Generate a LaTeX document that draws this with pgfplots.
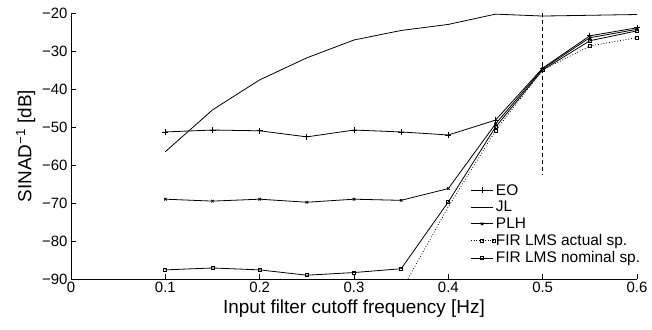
\documentclass[border=0pt]{standalone}
\usepackage{fontspec}
\setmainfont{Liberation Sans}
\usepackage{pgfplots}
\pgfplotsset{compat=1.18}
\begin{document}
\begin{tikzpicture}
\begin{axis}[
  name=ax,
  scale only axis, width=566bp, height=266bp,
  xmin=0, xmax=0.6, ymin=-90, ymax=-20,
  axis x line=bottom, axis y line=left,
  axis line style={-, line width=0.6bp},
  tick align=inside, major tick length=5bp,
  tick style={black, line width=0.6bp},
  xtick={0,0.1,0.2,0.3,0.4,0.5,0.6},
  xticklabels={0,0.1,0.2,0.3,0.4,0.5,0.6},
  ytick={-90,-80,-70,-60,-50,-40,-30,-20},
  yticklabels={−90,−80,−70,−60,−50,−40,−30,−20},
  ticklabel style={font=\fontsize{15}{15}\selectfont},
  xlabel={Input filter cutoff frequency [Hz]},
  ylabel={SINAD\textsuperscript{−1} [dB]},
  label style={font=\fontsize{19}{19}\selectfont},
  legend style={draw=none, fill=none, at={(0.70,0.372)}, anchor=north west,
    font=\fontsize{15.5}{15.5}\selectfont, row sep=0.6bp,
    nodes={inner xsep=1bp}},
  legend cell align=left,
  legend image code/.code={\draw[mark repeat=2,mark phase=2,#1] plot coordinates {(0cm,0cm) (0.4cm,0cm) (0.8cm,0cm)};},
  every axis plot/.append style={black, line width=0.8bp},
]
% EO
\addplot[mark=+, mark size=3bp] coordinates {
 (0.1,-51.3) (0.15,-50.8) (0.2,-51) (0.25,-52.6) (0.3,-50.8) (0.35,-51.3)
 (0.4,-52.1) (0.45,-48.2) (0.5,-34.5) (0.55,-26) (0.6,-23.9)};
\addlegendentry{EO}
% JL
\addplot[mark=none] coordinates {
 (0.1,-56.5) (0.15,-45.5) (0.2,-37.6) (0.25,-31.8) (0.3,-27.1) (0.35,-24.6)
 (0.4,-23) (0.45,-20.3) (0.5,-20.8) (0.55,-20.6) (0.6,-20.4)};
\addlegendentry{JL}
% PLH
\addplot[mark=x, mark size=1.8bp] coordinates {
 (0.1,-69) (0.15,-69.5) (0.2,-69) (0.25,-69.8) (0.3,-69) (0.35,-69.3)
 (0.4,-66.2) (0.45,-49.2) (0.5,-34.7) (0.55,-26.5) (0.6,-24.3)};
\addlegendentry{PLH}
% FIR LMS actual
\addplot[mark=square, mark size=1.5bp, dotted, mark options={solid},
  mark indices={2,3,4,5,6}] coordinates {
 (0.35,-93.1) (0.4,-71) (0.45,-51) (0.5,-35) (0.55,-28.7) (0.6,-26.5)};
\addlegendentry{FIR LMS actual sp.}
% FIR LMS nominal
\addplot[mark=square, mark size=1.5bp] coordinates {
 (0.1,-87.6) (0.15,-87.1) (0.2,-87.6) (0.25,-89) (0.3,-88.3) (0.35,-87.3)
 (0.4,-69.7) (0.45,-50) (0.5,-35) (0.55,-27.3) (0.6,-24.7)};
\addlegendentry{FIR LMS nominal sp.}
% vertical marker
\addplot[forget plot, dashed, dash pattern=on 4bp off 3bp, line width=0.6bp] coordinates {(0.5,-20) (0.5,-62.6)};
\end{axis}
\pgfresetboundingbox
\path[use as bounding box] ([shift={(-71bp,-51bp)}]ax.south west) rectangle ([shift={(15bp,13bp)}]ax.north east);
\end{tikzpicture}
\end{document}
